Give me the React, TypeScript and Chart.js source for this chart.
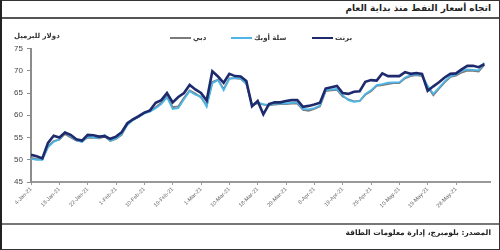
import React, { useEffect, useRef } from "react";
import { Chart, registerables } from "chart.js";
Chart.register(...registerables);

const TITLE = "اتجاه أسعار النفط منذ بداية العام";
const SOURCE = "المصدر: بلومبرج، إدارة معلومات الطاقة";
const Y_UNIT = "دولار للبرميل";
const seriesNames = ["دبي", "سلة أوبك", "برنت"];

const dates = [
  "4-Jan-21", "5-Jan-21", "7-Jan-21", "8-Jan-21", "11-Jan-21", "13-Jan-21", "14-Jan-21", "15-Jan-21", "19-Jan-21", "21-Jan-21",
  "22-Jan-21", "25-Jan-21", "27-Jan-21", "28-Jan-21", "29-Jan-21", "1-Feb-21", "2-Feb-21", "4-Feb-21", "5-Feb-21", "8-Feb-21",
  "10-Feb-21", "11-Feb-21", "12-Feb-21", "16-Feb-21", "18-Feb-21", "19-Feb-21", "22-Feb-21", "24-Feb-21", "25-Feb-21", "26-Feb-21",
  "1-Mar-21", "3-Mar-21", "4-Mar-21", "5-Mar-21", "8-Mar-21", "10-Mar-21", "11-Mar-21", "12-Mar-21", "15-Mar-21", "17-Mar-21",
  "18-Mar-21", "19-Mar-21", "22-Mar-21", "24-Mar-21", "26-Mar-21", "29-Mar-21", "31-Mar-21", "1-Apr-21", "5-Apr-21", "7-Apr-21",
  "8-Apr-21", "9-Apr-21", "12-Apr-21", "14-Apr-21", "15-Apr-21", "19-Apr-21", "21-Apr-21", "22-Apr-21", "26-Apr-21", "28-Apr-21",
  "29-Apr-21", "3-May-21", "5-May-21", "6-May-21", "7-May-21", "10-May-21", "12-May-21", "13-May-21", "14-May-21", "17-May-21",
  "19-May-21", "20-May-21", "24-May-21", "26-May-21", "27-May-21", "28-May-21", "31-May-21", "1-Jun-21", "2-Jun-21", "3-Jun-21",
  "4-Jun-21",
];

// gray series
const dubai = [
  50.4, 50.2, 50.1, 53.0, 54.2, 54.5, 55.8, 55.0, 54.3, 54.1,
  55.0, 54.9, 54.8, 55.2, 54.2, 54.7, 55.6, 57.9, 59.1, 59.6,
  60.5, 60.9, 61.8, 62.8, 64.3, 61.8, 62.0, 63.9, 65.6, 64.9,
  64.0, 62.2, 67.5, 68.0, 65.9, 68.3, 68.3, 68.2, 67.1, 62.2,
  62.7, 62.4, 62.2, 62.4, 62.5, 62.5, 62.6, 62.6, 61.2, 61.0,
  61.4, 62.0, 65.4, 65.6, 65.7, 64.2, 63.6, 63.1, 63.2, 64.6,
  65.4, 66.6, 66.8, 67.0, 67.2, 67.2, 68.3, 68.8, 69.0, 68.8,
  66.4, 64.5, 66.0, 67.4, 68.6, 68.9, 69.6, 70.0, 70.0, 69.8,
  71.3,
];

// light blue series
const opec = [
  50.2, 50.0, 50.0, 52.8, 54.0, 54.6, 56.2, 55.3, 54.4, 54.0,
  55.2, 55.0, 54.9, 55.6, 54.3, 54.8, 55.8, 57.8, 58.9, 59.6,
  60.4, 60.8, 61.6, 62.5, 64.0, 61.4, 61.6, 63.6, 65.4, 64.6,
  64.2, 61.9, 67.2, 67.9, 65.6, 68.2, 68.4, 68.3, 67.0, 62.4,
  62.8, 62.5, 62.3, 62.6, 62.6, 62.7, 62.8, 62.9, 61.4, 61.3,
  61.6, 62.2, 65.6, 65.8, 65.9, 64.5, 63.4, 63.0, 63.2, 64.8,
  65.6, 66.8, 67.0, 67.3, 67.4, 67.4, 68.5, 69.0, 69.2, 69.0,
  66.6, 64.8, 66.2, 67.6, 68.8, 69.1, 70.0, 70.3, 70.2, 70.1,
  71.8,
];

// navy series
const brent = [
  51.1, 50.8, 50.3, 53.8, 55.4, 55.0, 56.1, 55.6, 54.6, 54.3,
  55.6, 55.5, 55.2, 55.3, 54.7, 55.2, 56.2, 58.2, 59.1, 59.8,
  60.6, 61.1, 62.8, 63.4, 65.0, 62.9, 64.1, 65.0, 66.8, 65.8,
  65.0, 63.3, 69.9, 68.7, 67.3, 69.3, 68.8, 68.7, 67.7, 62.0,
  63.2, 60.2, 62.5, 62.9, 62.9, 63.2, 63.4, 63.4, 61.9, 62.1,
  62.4, 62.8, 66.0, 66.3, 66.6, 65.0, 64.8, 65.3, 65.4, 67.5,
  67.9, 67.8, 69.4, 68.8, 68.8, 68.8, 69.7, 69.3, 69.5, 69.3,
  65.5, 66.5, 67.4, 68.5, 69.3, 69.4, 70.3, 71.1, 71.1, 70.8,
  71.5,
];

const Y_MIN = 45;
const Y_MAX = 75;
const Y_STEP = 5;
const X_LABEL_EVERY = 5;

const colors = ["#7b7b7b", "#4db6e6", "#1e2a6c"];
const widths = [1.8, 1.8, 2.6];

export default function App() {
  const ref = useRef<HTMLCanvasElement | null>(null);

  useEffect(() => {
    if (!ref.current) return;
    const series = [dubai, opec, brent];
    const chart = new Chart(ref.current, {
      type: "line",
      data: {
        datasets: series.map((s, k) => ({
          label: seriesNames[k],
          data: s.map((v, i) => ({ x: i, y: v })),
          borderColor: colors[k],
          backgroundColor: colors[k],
          borderWidth: widths[k],
          pointRadius: 0,
          tension: 0,
          fill: false,
          order: 2 - k,
        })),
      },
      options: {
        responsive: false,
        animation: false,
        devicePixelRatio: 1,
        layout: { padding: { top: 28.5, right: 10, bottom: 2, left: 0 } },
        plugins: { legend: { display: false }, tooltip: { enabled: false } },
        scales: {
          x: {
            type: "linear",
            min: 0,
            max: dates.length,
            afterBuildTicks: (s: any) => {
              s.ticks = s.ticks.filter(
                (t: any) => t.value % X_LABEL_EVERY === 0 && t.value < dates.length
              );
            },
            afterFit: (s: any) => {
              s.height = 40;
            },
            ticks: {
              stepSize: X_LABEL_EVERY,
              autoSkip: false,
              maxRotation: 45,
              minRotation: 45,
              padding: 1,
              color: "#666",
              font: { family: "Liberation Sans", size: 5.5 },
              callback: (v: any) => dates[v] ?? "",
            },
            grid: { drawOnChartArea: false, drawTicks: true, tickLength: 3, color: "#999" },
            border: { display: true, color: "#9a9a9a", width: 2 },
          },
          y: {
            min: Y_MIN,
            max: Y_MAX,
            afterFit: (s: any) => {
              s.width = 31;
            },
            ticks: {
              stepSize: Y_STEP,
              padding: 4,
              color: "#444",
              font: { family: "Liberation Sans", size: 8 },
            },
            grid: { drawOnChartArea: false, drawTicks: true, tickLength: 4, color: "#8c8c8c" },
            border: { display: true, color: "#8c8c8c", width: 2 },
          },
        },
      },
    });
    return () => chart.destroy();
  }, []);

  const legendPos = [168, 229, 310];

  return (
    <div
      style={{
        position: "fixed",
        left: 0,
        top: 0,
        width: 500,
        height: 250,
        boxSizing: "border-box",
        borderTop: "1px solid #333",
        borderRight: "1px solid #333",
        borderBottom: "1px solid #333",
        borderLeft: "2px solid #222",
        background: "#fff",
        overflow: "hidden",
        fontFamily: "DejaVu Sans, sans-serif",
      }}
    >
      <div
        dir="rtl"
        style={{
          position: "absolute",
          right: 8,
          top: 2,
          fontSize: 9,
          fontWeight: "bold",
          color: "#222",
          whiteSpace: "nowrap",
        }}
      >
        {TITLE}
      </div>
      <div style={{ position: "absolute", left: 0, right: 0, top: 16, height: 2, background: "#555" }} />
      <canvas
        ref={ref}
        width={500}
        height={204}
        style={{ position: "absolute", left: -2, top: 19, width: 500, height: 204 }}
      />
      <div
        dir="rtl"
        style={{ position: "absolute", left: 12, top: 31, fontSize: 7, fontWeight: "bold", color: "#333", whiteSpace: "nowrap" }}
      >
        {Y_UNIT}
      </div>
      {seriesNames.map((n, k) => (
        <div
          key={n}
          style={{ position: "absolute", left: legendPos[k], top: 31, height: 12, display: "flex", alignItems: "center", whiteSpace: "nowrap" }}
        >
          <span style={{ display: "inline-block", width: 21, height: k === 2 ? 2 : 1.5, background: colors[k], marginRight: 2 }} />
          <span dir="rtl" style={{ fontSize: 7, fontWeight: "bold", color: "#333" }}>{n}</span>
        </div>
      ))}
      <div style={{ position: "absolute", left: 0, right: 0, top: 222, height: 2, background: "#777" }} />
      <div
        dir="rtl"
        style={{
          position: "absolute",
          right: 8,
          top: 227,
          fontSize: 7.5,
          fontWeight: "bold",
          color: "#222",
          whiteSpace: "nowrap",
        }}
      >
        {SOURCE}
      </div>
    </div>
  );
}
